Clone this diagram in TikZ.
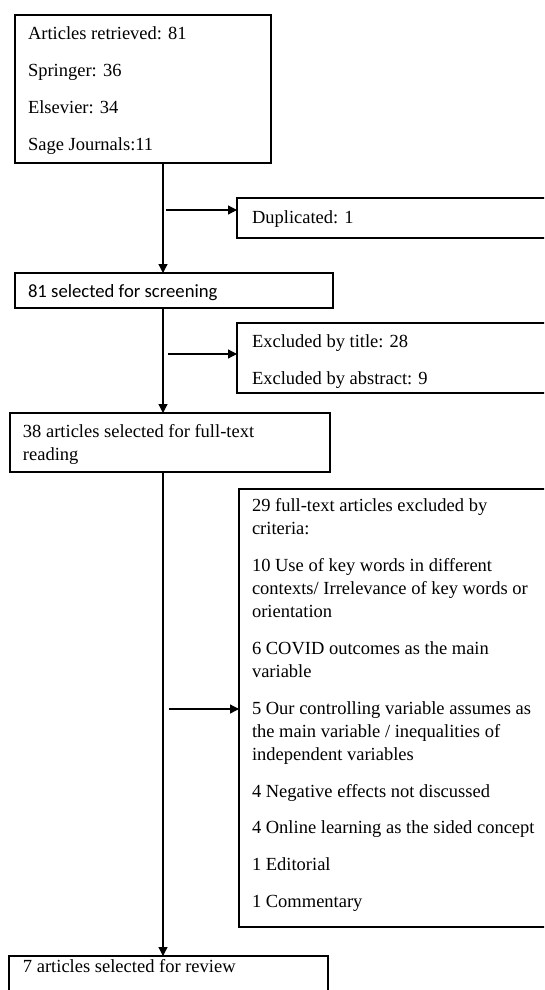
\documentclass[tikz,border=0pt]{standalone}
\usepackage{fontspec}
\setmainfont{Liberation Serif}
\newfontfamily\timesf{Liberation Serif}
\newfontfamily\calibri{Carlito}
\usetikzlibrary{arrows.meta}
\begin{document}
\begin{tikzpicture}[x=1pt,y=-1pt,
  box/.style={draw=black,line width=1.4pt,fill=none,inner sep=0pt,outer sep=0pt},
  txt/.style={inner sep=0pt,outer sep=0pt,anchor=base west,
    font=\timesf\fontsize{18.5}{23}\selectfont},
  ctxt/.style={inner sep=0pt,outer sep=0pt,anchor=base west,
    font=\calibri\fontsize{18.7}{23}\selectfont},
  arr/.style={line width=1.3pt,-{Triangle[length=9pt,width=9pt]}}]
\fill[white] (0,0) rectangle (544,990);
\useasboundingbox (0,0) rectangle (544,990);
\clip (0,0) rectangle (544,990);
% boxes
\node[box,minimum width=256pt,minimum height=148pt] (b1) at (143,89) {};
\node[box,minimum width=323pt,minimum height=40pt] (dup) at (398.5,218) {};
\node[box,minimum width=318pt,minimum height=35pt] (b2) at (174,290.5) {};
\node[box,minimum width=323pt,minimum height=70pt] (exc) at (398.5,358) {};
\node[box,minimum width=320pt,minimum height=59pt] (b3) at (170,442.5) {};
\node[box,minimum width=321pt,minimum height=438pt] (big) at (399.5,708) {};
\node[box,minimum width=319pt,minimum height=54pt] (b4) at (168.5,983) {};
% texts
\node[txt] (t1a) at (28,40) {Articles retrieved: 81};
\node[txt] (t1b) at (28,77) {Springer: 36};
\node[txt] (t1c) at (28,113) {Elsevier: 34};
\node[txt] (t1d) at (28,150) {Sage Journals:11};
\node[txt] (tdup) at (252,223) {Duplicated: 1};
\node[ctxt] (t2) at (28,297) {81 selected for screening};
\node[txt] (te1) at (252,347) {Excluded by title: 28};
\node[txt] (te2) at (252,384) {Excluded by abstract: 9};
\node[txt] (t3a) at (23,437) {38 articles selected for full-text};
\node[txt] (t3b) at (23,460) {reading};
\node[txt] (g1a) at (252,511) {29 full-text articles excluded by};
\node[txt] (g1b) at (252,534) {criteria:};
\node[txt] (g2a) at (252,571) {10 Use of key words in different};
\node[txt] (g2b) at (252,594) {contexts/ Irrelevance of key words or};
\node[txt] (g2c) at (252,617) {orientation};
\node[txt] (g3a) at (252,654) {6 COVID outcomes as the main};
\node[txt] (g3b) at (252,677) {variable};
\node[txt] (g4a) at (252,714) {5 Our controlling variable assumes as};
\node[txt] (g4b) at (252,737) {the main variable / inequalities of};
\node[txt] (g4c) at (252,760) {independent variables};
\node[txt] (g5) at (252,797) {4 Negative effects not discussed};
\node[txt] (g6) at (252,833) {4 Online learning as the sided concept};
\node[txt] (g7) at (252,870) {1 Editorial};
\node[txt] (g8) at (252,907) {1 Commentary};
\node[txt] (t4) at (23,972) {7 articles selected for review};
% connectors
\coordinate (spine) at (163,0);
\draw[arr] (spine |- b1.south) -- (spine |- b2.north);
\draw[arr] (spine |- b2.south) -- (spine |- b3.north);
\draw[arr] (spine |- b3.south) -- (spine |- b4.north);
\coordinate (j1) at (166,210);
\coordinate (j2) at (168,354);
\coordinate (j3) at (169,709);
\draw[arr] (j1) -- (j1 -| dup.west);
\draw[arr] (j2) -- (j2 -| exc.west);
\draw[arr] (j3) -- (j3 -| big.west);
\end{tikzpicture}
\end{document}
